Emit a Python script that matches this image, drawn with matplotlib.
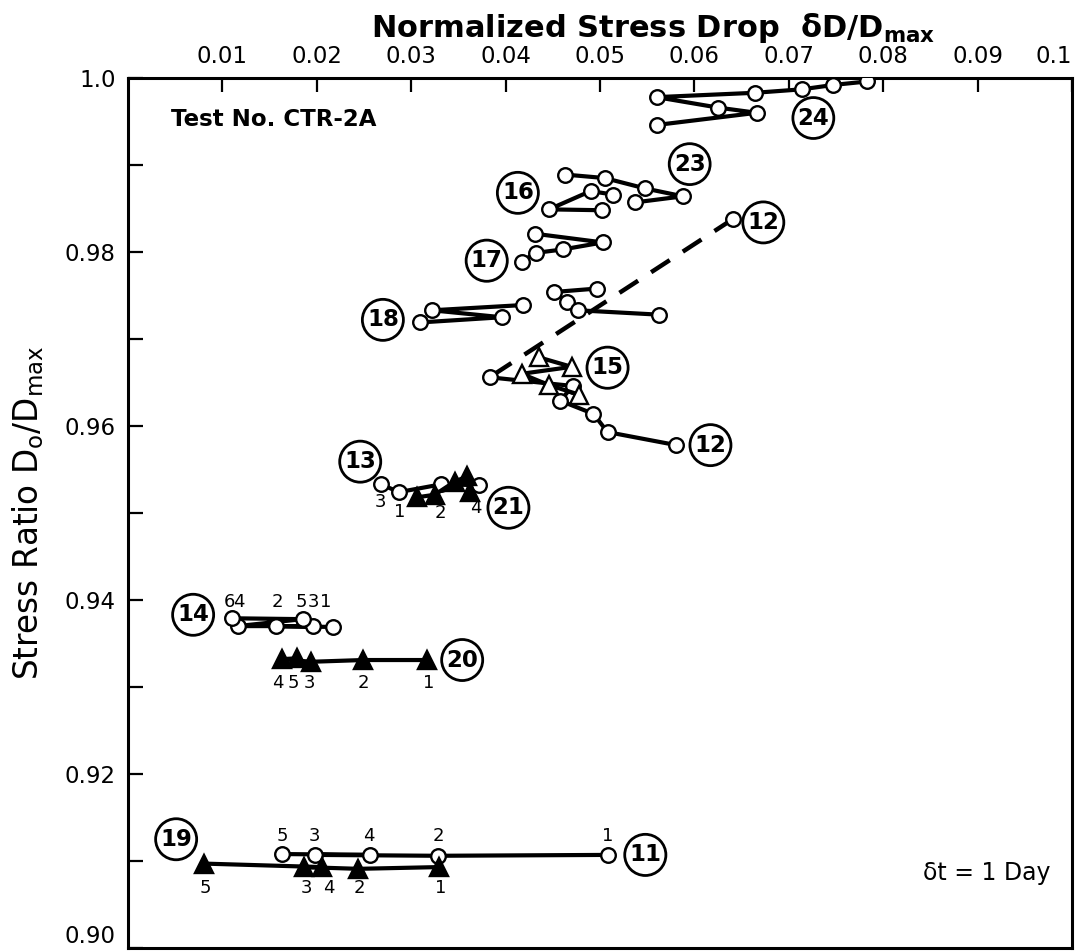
import numpy as np
import matplotlib.pyplot as plt

plt.rcParams['font.family'] = ['DejaVu Sans']
plt.rcParams['mathtext.fontset'] = 'dejavusans'

# ── data: x = dD/Dmax, y = Do/Dmax ──

# open circles
x24 = [0.0783, 0.0747, 0.0714, 0.0664, 0.0560, 0.0625, 0.0666, 0.0560]
y24 = [0.9996, 0.9992, 0.9987, 0.9983, 0.9978, 0.9966, 0.9960, 0.9946]
x23 = [0.0463, 0.0505, 0.0548, 0.0588, 0.0537]
y23 = [0.9889, 0.9885, 0.9873, 0.9864, 0.9857]
x16 = [0.0514, 0.0490, 0.0446, 0.0502]
y16 = [0.9866, 0.9870, 0.9849, 0.9848]
x17 = [0.0431, 0.0503, 0.0461, 0.0432, 0.0417]
y17 = [0.9821, 0.9811, 0.9803, 0.9799, 0.9789]
x18 = [0.0418, 0.0322, 0.0396, 0.0309]
y18 = [0.9739, 0.9733, 0.9725, 0.9719]
x_mid = [0.0497, 0.0451, 0.0465, 0.0477, 0.0562]
y_mid = [0.9758, 0.9754, 0.9743, 0.9733, 0.9728]
x12_dash = [0.0641, 0.0383]
y12_dash = [0.9838, 0.9656]
x12 = [0.0383, 0.0471, 0.0458, 0.0493, 0.0508, 0.0581]
y12 = [0.9656, 0.9646, 0.9629, 0.9614, 0.9593, 0.9578]
x13 = [0.0268, 0.0287, 0.0332, 0.0372]
y13 = [0.9533, 0.9524, 0.9533, 0.9532]
x14 = [0.0217, 0.0157, 0.0196, 0.0116, 0.0185, 0.0110]
y14 = [0.9369, 0.9370, 0.9370, 0.9370, 0.9378, 0.9379]
x11 = [0.0508, 0.0328, 0.0198, 0.0256, 0.0163]
y11 = [0.9107, 0.9106, 0.9107, 0.9107, 0.9108]

# open triangles
x15 = [0.0435, 0.0470, 0.0417, 0.0446, 0.0478]
y15 = [0.9679, 0.9668, 0.9660, 0.9647, 0.9636]

# filled triangles
x21 = [0.0306, 0.0325, 0.0346, 0.0359, 0.0362]
y21 = [0.9518, 0.9521, 0.9536, 0.9542, 0.9524]
x20 = [0.0317, 0.0249, 0.0194, 0.0163, 0.0179]
y20 = [0.9331, 0.9331, 0.9329, 0.9332, 0.9333]
x19 = [0.0329, 0.0244, 0.0186, 0.0206, 0.0081]
y19 = [0.9093, 0.9091, 0.9093, 0.9093, 0.9097]

# circled series numbers
circ_text = ['24', '23', '16', '17', '12', '18', '15', '12', '13', '21', '14', '20', '19', '11']
circ_x = [0.0726, 0.0595, 0.0413, 0.0380, 0.0673, 0.0270, 0.0508, 0.0617,
          0.0246, 0.0403, 0.0069, 0.0354, 0.0051, 0.0548]
circ_y = [0.9954, 0.9901, 0.9868, 0.9790, 0.9834, 0.9722, 0.9667, 0.9578,
          0.9559, 0.9506, 0.9383, 0.9331, 0.9125, 0.9107]

# small day numbers next to the points
n13_text = ['3', '1', '2', '4']
n13_x = [0.0267, 0.0288, 0.0331, 0.0368]
n13_y = [0.9513, 0.9501, 0.9500, 0.9506]
n14_text = ['6', '4', '2', '5', '3', '1']
n14_x = [0.0107, 0.0117, 0.0158, 0.0184, 0.0196, 0.0209]
n20_text = ['4', '5', '3', '2', '1']
n20_x = [0.0159, 0.0175, 0.0192, 0.0249, 0.0318]
n11_text = ['5', '3', '4', '2', '1']
n11_x = [0.0163, 0.0198, 0.0255, 0.0329, 0.0508]
n19_text = ['5', '3', '4', '2', '1']
n19_x = [0.0082, 0.0189, 0.0213, 0.0245, 0.0331]

xticks = [0.01, 0.02, 0.03, 0.04, 0.05, 0.06, 0.07, 0.08, 0.09, 0.1]
xtick_labels = ['0.01', '0.02', '0.03', '0.04', '0.05', '0.06', '0.07', '0.08', '0.09', '0.1']
yticks = [0.90, 0.91, 0.92, 0.93, 0.94, 0.95, 0.96, 0.97, 0.98, 0.99, 1.0]
ytick_labels = ['0.90', '', '0.92', '', '0.94', '', '0.96', '', '0.98', '', '1.0']


def draw(ax, xs, ys, marker='o', filled=False, ls='-', ms=10.5):
    ax.plot(xs, ys, color='black', lw=3.0, ls=ls, marker=marker, ms=ms,
            mfc='black' if filled else 'white', mec='black', mew=1.7,
            solid_capstyle='round', solid_joinstyle='round', zorder=3)


fig = plt.figure(figsize=(10.75, 9.51), dpi=100)
ax = fig.add_axes([128 / 1075, 3 / 951, 944 / 1075, 870 / 951])
ax.set_xlim(0, 0.1)
ax.set_ylim(0.9, 1.0)

# dashed link for series 12
ax.plot(x12_dash, y12_dash, color='black', lw=3.2, ls=(0, (5, 3.5)), zorder=2)
ax.plot(x12_dash[:1], y12_dash[:1], 'o', ms=10.5, mfc='white', mec='black', mew=1.7, zorder=4)

for xs, ys in [(x24, y24), (x23, y23), (x16, y16), (x17, y17), (x18, y18),
               (x_mid, y_mid), (x12, y12), (x13, y13), (x14, y14), (x11, y11)]:
    draw(ax, xs, ys)
draw(ax, x15, y15, marker='^', ms=12.5)
for xs, ys in [(x21, y21), (x20, y20), (x19, y19)]:
    draw(ax, xs, ys, marker='^', filled=True, ms=12.5)

for t, x, y in zip(circ_text, circ_x, circ_y):
    ax.text(x, y, t, fontsize=16.5, fontweight='bold', ha='center', va='center', zorder=5,
            bbox=dict(boxstyle='circle,pad=0.2', fc='white', ec='black', lw=2.0))

for t, x, y in zip(n13_text, n13_x, n13_y):
    ax.text(x, y, t, fontsize=13, ha='center', va='center')
for t, x in zip(n14_text, n14_x):
    ax.text(x, 0.9398, t, fontsize=13, ha='center', va='center')
for t, x in zip(n20_text, n20_x):
    ax.text(x, 0.9305, t, fontsize=13, ha='center', va='center')
for t, x in zip(n11_text, n11_x):
    ax.text(x, 0.9129, t, fontsize=13, ha='center', va='center')
for t, x in zip(n19_text, n19_x):
    ax.text(x, 0.9069, t, fontsize=13, ha='center', va='center')

ax.text(0.0046, 0.9952, 'Test No. CTR-2A', fontsize=16.5, fontweight='bold',
        ha='left', va='center')
ax.text(0.0977, 0.9086, 'δt = 1 Day', fontsize=17, ha='right', va='center')

# axes styling: ticks on top and left, pointing inward
ax.xaxis.tick_top()
ax.set_xticks(xticks)
ax.set_xticklabels(xtick_labels)
ax.set_yticks(yticks)
ax.set_yticklabels(ytick_labels)
ax.tick_params(axis='x', direction='in', length=10, width=1.6, pad=7, labelsize=16.5,
               top=True, bottom=False)
ax.tick_params(axis='y', direction='in', length=11, width=1.6, pad=9, labelsize=16.5,
               left=True, right=False)
ax.get_xticklabels()[-1].set_horizontalalignment('right')
ax.get_yticklabels()[0].set_verticalalignment('bottom')
for s in ax.spines.values():
    s.set_linewidth(2.2)

ax.set_ylabel('Stress Ratio D$_\\mathrm{o}$/D$_\\mathrm{max}$', fontsize=23.5, labelpad=13)
fig.text(371 / 1075, 1 - 37 / 951, 'Normalized Stress Drop  δD/D$_\\mathbf{max}$',
         fontsize=22, fontweight='bold', ha='left', va='baseline')

fig.savefig('out.png', dpi=100)
